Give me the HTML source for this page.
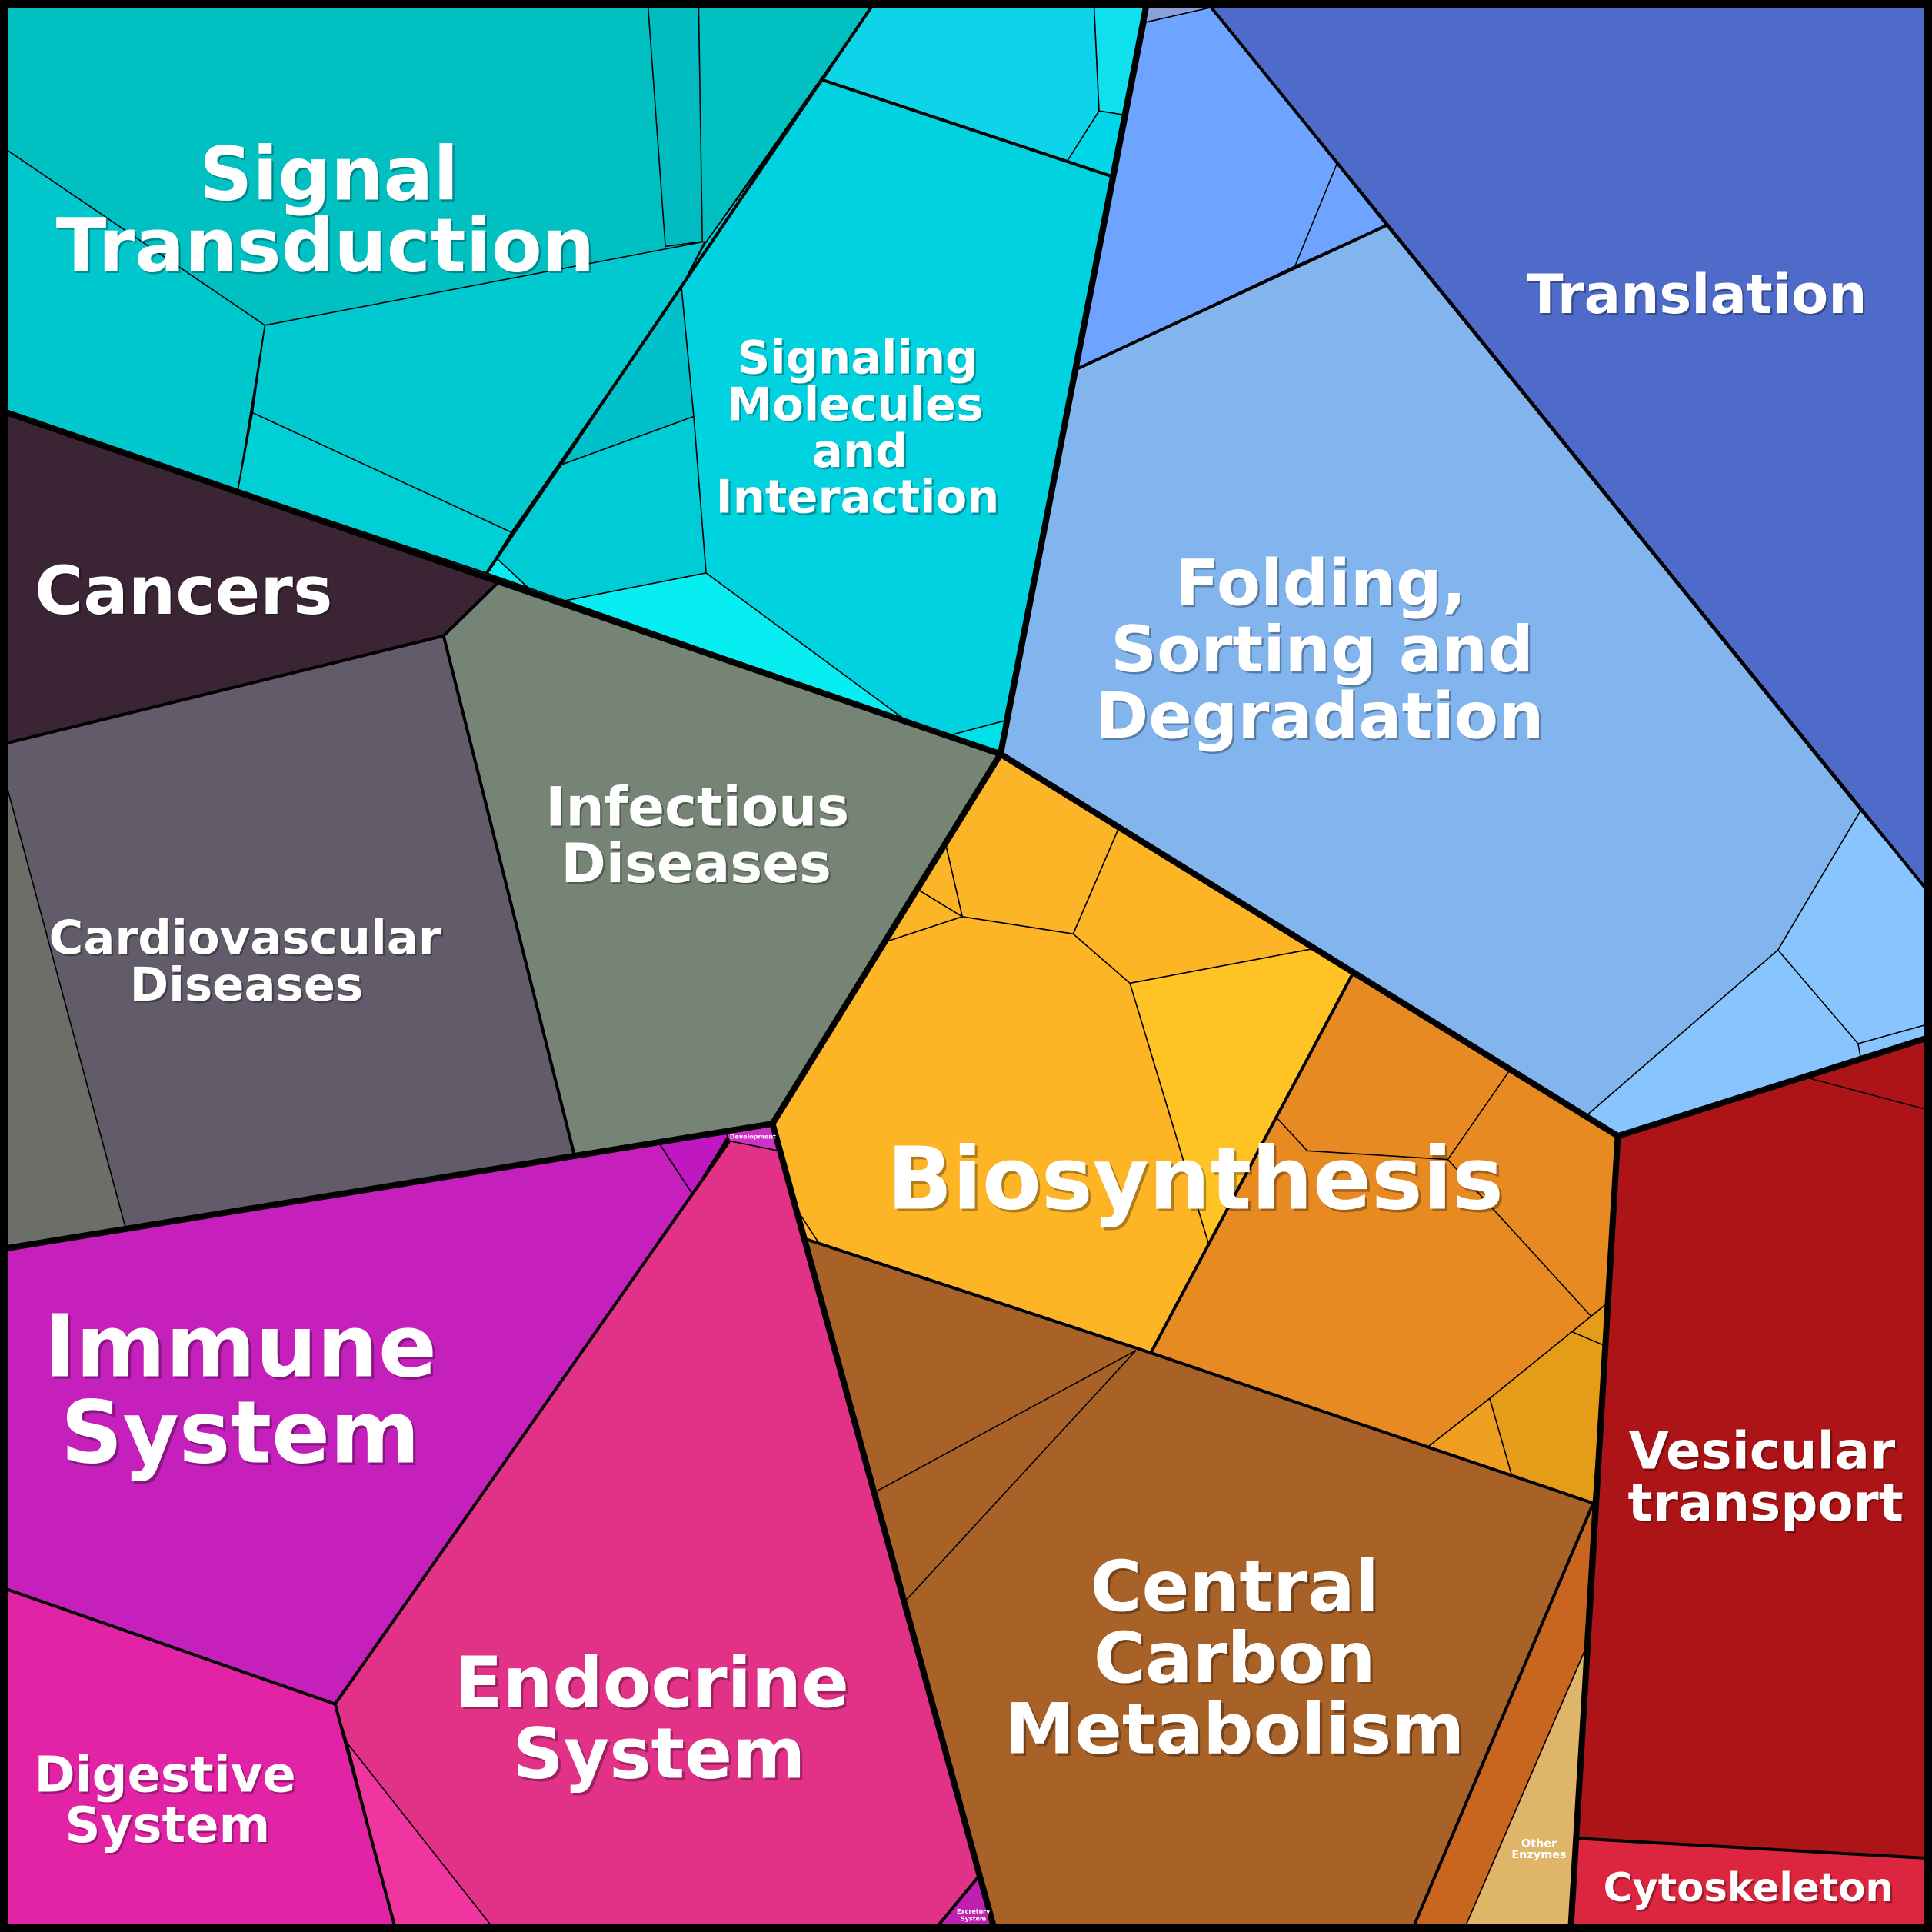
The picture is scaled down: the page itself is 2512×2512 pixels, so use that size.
<!DOCTYPE html>
<html><head><meta charset="utf-8"><style>
html,body{margin:0;padding:0;background:#000}
svg{display:block}
text{font-family:"DejaVu Sans","Liberation Sans",sans-serif;font-weight:bold;fill:#fff;text-anchor:middle}
.sh{fill:#000;opacity:.3}
</style></head><body>
<svg width="2512" height="2512" viewBox="0 0 1568 1568" xmlns="http://www.w3.org/2000/svg">
<rect width="1568" height="1568" fill="#000"/>
<g stroke="#000" stroke-width="1" stroke-linejoin="round">
<polygon fill="#00c0c2" points="6,6 707,6 572,198 215,264 6,122"/>
<polygon fill="#00bcc0" points="526,6 567,6 570,196 540,200"/>
<polygon fill="#00c8cc" points="6,122 215,264 193,398 6,335"/>
<polygon fill="#00cad0" points="215,264 572,196 553,233 415,432 205,335"/>
<polygon fill="#00d0d6" points="205,335 415,432 395,465 193,398"/>
<polygon fill="#00d2e0" points="668,65 902,143 815,585 770,597 733,583 573,465 563,338 553,233 572,198"/>
<polygon fill="#0ed4ea" points="707,6 888,6 892,90 866,131 668,65"/>
<polygon fill="#0ee0ee" points="888,6 930,6 911,93 892,90"/>
<polygon fill="#00d6e8" points="892,90 911,93 902,143 866,131"/>
<polygon fill="#00c0cc" points="553,233 563,338 456,377"/>
<polygon fill="#00ccd6" points="456,377 563,338 573,465 456,488 435,483 403,453"/>
<polygon fill="#06eef2" points="395,465 403,453 435,483 456,488 573,465 733,583 770,597 812,612"/>
<polygon fill="#00e0e8" points="770,597 815,585 812,612"/>
<polygon fill="#4f6bc9" points="983,6 1562,6 1562,720 1510,658 1125,183"/>
<polygon fill="#6ea3ff" points="930,18 983,6 1125,183 1051,216 875,299"/>
<polygon fill="#8aa0d8" points="930,6 983,6 930,18"/>
<polygon fill="#82b4ee" points="875,299 1125,183 1510,658 1443,771 1288,905 1313,922 812,612"/>
<polygon fill="#88c5ff" points="1288,905 1443,771 1510,658 1562,720 1562,843 1313,922"/>
<polyline fill="none" points="1085,133 1051,216"/>
<polyline fill="none" points="1443,771 1508,847 1510,858"/>
<polyline fill="none" points="1508,847 1562,832"/>
<polygon fill="#3b2434" points="6,335 395,465 405,472 360,516 6,603"/>
<polygon fill="#625c6a" points="6,603 360,516 466,937 102,997 6,640"/>
<polygon fill="#6b6f68" points="6,640 102,997 6,1013"/>
<polygon fill="#768475" points="360,516 405,472 812,612 627,912 466,937"/>
<polygon fill="#c520bb" points="6,1013 535,928 562,969 272,1383 6,1290"/>
<polygon fill="#c017c0" points="535,928 592,920 562,969"/>
<polygon fill="#cf30c8" points="588,916 628,912 632,934 592,926"/>
<polygon fill="#e23287" points="592,926 632,934 795,1522 762,1562 398,1562 282,1415 272,1383 562,969"/>
<polygon fill="#f035a0" points="282,1415 398,1562 320,1562"/>
<polygon fill="#e323a6" points="6,1290 272,1383 320,1562 6,1562"/>
<polygon fill="#c020b0" points="795,1522 806,1562 762,1562"/>
<polygon fill="#fcb526" points="812,612 908,672 871,758 781,744 767,683"/>
<polygon fill="#fcb526" points="767,683 781,744 745,722"/>
<polygon fill="#fcb526" points="745,722 781,744 720,764"/>
<polygon fill="#fdb526" points="908,672 1066,770 917,798 871,758"/>
<polygon fill="#ffc423" points="917,798 1066,770 1098,790 981,1010"/>
<polygon fill="#fdb526" points="627,912 720,764 781,744 871,758 917,798 981,1010 934,1098 655,1006 649,985"/>
<polygon fill="#e88a22" points="1098,790 1313,922 1304,1058 1209,1135 1158,1175 934,1098"/>
<polyline fill="none" points="1037,908 1061,934 1175,941 1225,869"/>
<polyline fill="none" points="1175,941 1291,1068"/>
<polygon fill="#e59c19" points="1209,1135 1304,1058 1302,1092 1293,1220 1227,1198"/>
<polyline fill="none" points="1276,1081 1302,1092"/>
<polygon fill="#f0a020" points="1158,1175 1209,1135 1227,1198"/>
<polygon fill="#fcb526" points="649,985 664,1008 655,1006"/>
<polygon fill="#a86127" points="655,1006 934,1098 1293,1220 1148,1562 806,1562"/>
<polyline fill="none" points="712,1210 922,1096"/>
<polyline fill="none" points="736,1298 922,1096"/>
<polygon fill="#c8651e" points="1293,1220 1286,1340 1190,1562 1148,1562"/>
<polygon fill="#dfb56a" points="1286,1340 1275,1562 1190,1562"/>
<polygon fill="#ad1418" points="1313,922 1562,843 1562,1508 1280,1492"/>
<polyline fill="none" points="1468,875 1562,900"/>
<polygon fill="#dc2640" points="1280,1492 1562,1508 1562,1562 1275,1562"/>
</g>
<g stroke="#000" stroke-width="2.5" fill="none" stroke-linejoin="round">
<polyline points="983,6 1562,720"/>
<polyline points="405,472 360,516 466,937"/>
<polyline points="6,603 360,516"/>
<polyline points="668,65 902,143"/>
<polyline points="707,6 395,465"/>
<polyline points="6,1290 272,1383 562,969 592,926"/>
<polyline points="272,1383 320,1562"/>
<polyline points="655,1006 934,1098 1293,1220 1148,1562"/>
<polyline points="1098,790 934,1098"/>
<polyline points="1280,1492 1562,1508"/>
<polyline points="795,1522 762,1562"/>
<polyline points="875,299 1125,183"/>
</g>
<g stroke="#000" stroke-width="5" fill="none" stroke-linejoin="round">
<polyline points="6,335 812,612 930,6"/>
<polyline points="812,612 1313,922 1562,843"/>
<polyline points="1313,922 1275,1562"/>
<polyline points="6,1013 627,912 806,1562"/>
<polyline points="812,612 627,912"/>
<rect x="4" y="4" width="1560" height="1560"/>
</g>
<g>
<g font-size="60"><text class="sh" x="268.5" y="163.5">Signal</text><text x="267" y="162">Signal</text>
<text class="sh" x="265.5" y="221.5">Transduction</text><text x="264" y="220">Transduction</text></g>
<g font-size="37"><text class="sh" x="697.5" y="304.5">Signaling</text><text x="696" y="303">Signaling</text>
<text class="sh" x="695.5" y="342.5">Molecules</text><text x="694" y="341">Molecules</text>
<text class="sh" x="699.5" y="380.5">and</text><text x="698" y="379">and</text>
<text class="sh" x="697.5" y="417.5">Interaction</text><text x="696" y="416">Interaction</text></g>
<g font-size="44"><text class="sh" x="1378.5" y="255.5">Translation</text><text x="1377" y="254">Translation</text></g>
<g font-size="52"><text class="sh" x="1073.5" y="492.5">Folding,</text><text x="1072" y="491">Folding,</text>
<text class="sh" x="1074.5" y="546.5">Sorting and</text><text x="1073" y="545">Sorting and</text>
<text class="sh" x="1072.5" y="600.5">Degradation</text><text x="1071" y="599">Degradation</text></g>
<g font-size="54"><text class="sh" x="150.5" y="499.5">Cancers</text><text x="149" y="498">Cancers</text></g>
<g font-size="44"><text class="sh" x="567.5" y="671.5">Infectious</text><text x="566" y="670">Infectious</text>
<text class="sh" x="566.5" y="717.5">Diseases</text><text x="565" y="716">Diseases</text></g>
<g font-size="38"><text class="sh" x="200.5" y="775.5">Cardiovascular</text><text x="199" y="774">Cardiovascular</text>
<text class="sh" x="201.5" y="813.5">Diseases</text><text x="200" y="812">Diseases</text></g>
<g font-size="70"><text class="sh" x="972" y="983">Biosynthesis</text><text x="970" y="981">Biosynthesis</text></g>
<g font-size="70"><text class="sh" x="197" y="1119">Immune</text><text x="195" y="1117">Immune</text>
<text class="sh" x="197" y="1189">System</text><text x="195" y="1187">System</text></g>
<g font-size="57"><text class="sh" x="531" y="1387">Endocrine</text><text x="529" y="1385">Endocrine</text>
<text class="sh" x="537" y="1445">System</text><text x="535" y="1443">System</text></g>
<g font-size="57"><text class="sh" x="1004" y="1309">Central</text><text x="1002" y="1307">Central</text>
<text class="sh" x="1004" y="1367">Carbon</text><text x="1002" y="1365">Carbon</text>
<text class="sh" x="1004" y="1425">Metabolism</text><text x="1002" y="1423">Metabolism</text></g>
<g font-size="40"><text class="sh" x="135.5" y="1455.5">Digestive</text><text x="134" y="1454">Digestive</text>
<text class="sh" x="137.5" y="1496.5">System</text><text x="136" y="1495">System</text></g>
<g font-size="42"><text class="sh" x="1431.5" y="1193.5">Vesicular</text><text x="1430" y="1192">Vesicular</text>
<text class="sh" x="1434.5" y="1235.5">transport</text><text x="1433" y="1234">transport</text></g>
<g font-size="32"><text class="sh" x="1420.5" y="1544.5">Cytoskeleton</text><text x="1419" y="1543">Cytoskeleton</text></g>
<g font-size="9" font-weight="normal"><text x="1249" y="1499">Other</text><text x="1249" y="1508">Enzymes</text></g>
<g font-size="5"><text x="611" y="924">Development</text></g>
<g font-size="5"><text x="790" y="1553">Excretory</text><text x="790" y="1559">System</text></g>
</g>
</svg>
</body></html>
